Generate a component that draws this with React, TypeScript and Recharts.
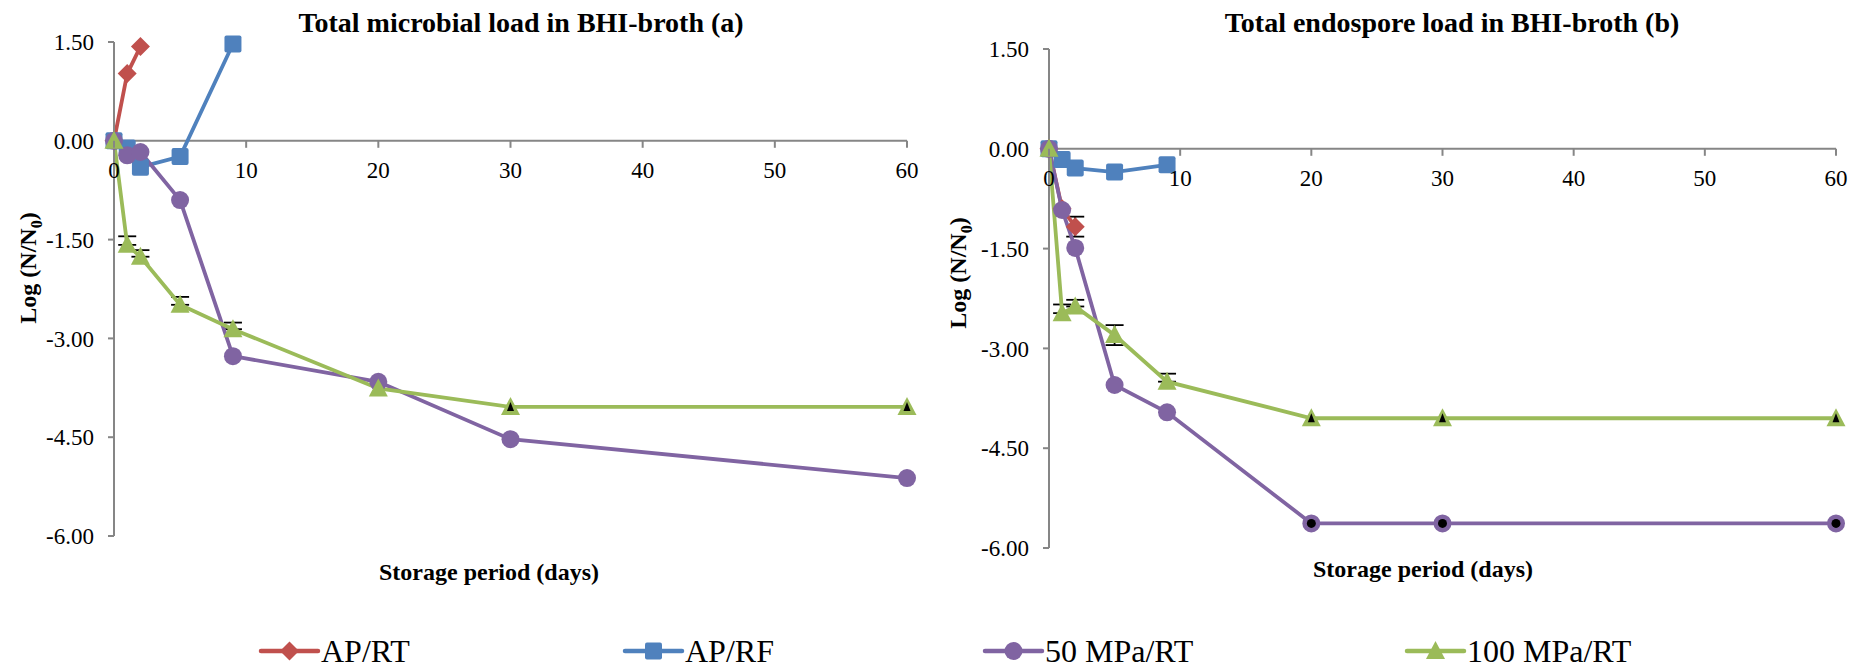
import React from 'react';
import { LineChart, Line, XAxis, YAxis, ErrorBar, ReferenceLine } from 'recharts';

const FONT = "'Liberation Serif', 'Times New Roman', Times, serif";
const RED = '#C0504D';
const BLUE = '#4F81BD';
const PURPLE = '#8064A2';
const GREEN = '#9BBB59';
const AXIS = '#868686';

const SERIES_NAMES = ['AP/RT', 'AP/RF', '50 MPa/RT', '100 MPa/RT'];
const TITLES = ['Total microbial load in BHI-broth (a)', 'Total endospore load in BHI-broth (b)'];
const X_LABEL = 'Storage period (days)';
const X_TICKS = [0, 10, 20, 30, 40, 50, 60];
const Y_TICKS = [-6, -4.5, -3, -1.5, 0, 1.5];
const X_DOMAIN = [0, 60];
const Y_MIN = -6;
const Y_MAX = 1.5;

// ---- Panel (a): total microbial load ----
const A_DAYS_AP_RT = [0, 1, 2];
const A_AP_RT = [0, 1.02, 1.43];
const A_DAYS_AP_RF = [0, 1, 2, 5, 9];
const A_AP_RF = [0, -0.11, -0.4, -0.24, 1.47];
const A_DAYS_HP = [0, 1, 2, 5, 9, 20, 30, 60];
const A_50 = [0, -0.22, -0.17, -0.9, -3.27, -3.66, -4.53, -5.12];
const A_100 = [0, -1.58, -1.76, -2.49, -2.86, -3.76, -4.04, -4.04];
const A_100_ERR_LO = [0, 0, 0, 0, 0, 0, 0, 0];
const A_100_ERR_HI = [0, 0.13, 0.1, 0.12, 0.1, 0, 0, 0];
const A_100_LIMIT = [0, 0, 0, 0, 0, 0, 1, 1];

// ---- Panel (b): total endospore load ----
const B_DAYS_AP_RT = [0, 1, 2];
const B_AP_RT = [0, -0.9, -1.17];
const B_AP_RT_ERR_LO = [0, 0, 0.15];
const B_AP_RT_ERR_HI = [0, 0, 0.15];
const B_DAYS_AP_RF = [0, 1, 2, 5, 9];
const B_AP_RF = [0, -0.16, -0.29, -0.35, -0.24];
const B_DAYS_HP = [0, 1, 2, 5, 9, 20, 30, 60];
const B_50 = [0, -0.92, -1.49, -3.55, -3.96, -5.63, -5.63, -5.63];
const B_50_LIMIT = [0, 0, 0, 0, 0, 1, 1, 1];
const B_100 = [0, -2.47, -2.37, -2.8, -3.5, -4.05, -4.05, -4.05];
const B_100_ERR_LO = [0, 0, 0, 0.15, 0, 0, 0, 0];
const B_100_ERR_HI = [0, 0.13, 0.1, 0.15, 0.12, 0, 0, 0];
const B_100_LIMIT = [0, 0, 0, 0, 0, 1, 1, 1];

type Row = { day: number; v: number; err: [number, number] | null; lim: number };
const rows = (days: number[], vals: number[], lo?: number[], hi?: number[], lim?: number[]): Row[] =>
  days.map((d, i) => {
    const l = lo ? lo[i] : 0;
    const h = hi ? hi[i] : 0;
    return {
      day: d,
      v: vals[i],
      err: l || h ? [l, h] : null,
      lim: lim ? lim[i] : 0,
    };
  });

// ---- marker shapes ----
const Diamond = ({ cx, cy, color }: any) => {
  const r = 9.5;
  return <polygon points={`${cx},${cy - r} ${cx + r},${cy} ${cx},${cy + r} ${cx - r},${cy}`} fill={color} />;
};
const Square = ({ cx, cy, color }: any) => {
  const s = 17;
  return <rect x={cx - s / 2} y={cy - s / 2} width={s} height={s} rx={2} fill={color} />;
};
const Circle = ({ cx, cy, color, lim }: any) => (
  <g>
    <circle cx={cx} cy={cy} r={9} fill={color} />
    {lim ? <circle cx={cx} cy={cy} r={4.5} fill="#000" /> : null}
  </g>
);
const Triangle = ({ cx, cy, color, lim }: any) => (
  <g>
    <polygon points={`${cx},${cy - 10} ${cx + 9.5},${cy + 8} ${cx - 9.5},${cy + 8}`} fill={color} />
    {lim ? <polygon points={`${cx},${cy - 5} ${cx + 3.5},${cy + 4} ${cx - 3.5},${cy + 4}`} fill="#000" /> : null}
  </g>
);

const dotFn = (Shape: any, color: string) => (p: any) => {
  if (p.cx == null || p.cy == null) return <g key={p.index} />;
  return <Shape key={p.index} cx={p.cx} cy={p.cy} color={color} lim={p.payload?.lim} />;
};

const tickStyle = { fontFamily: FONT, fontSize: 23, fill: '#000' };

const makeXTick = (zeroShift: number) => (props: any) => {
  const { x, y, payload } = props;
  const y0 = y - zeroShift;
  return (
    <g>
      <line x1={x} x2={x} y1={y0} y2={y0 + 7} stroke={AXIS} strokeWidth={2} />
      <text x={x} y={y0 + 30} textAnchor="middle" dominantBaseline="central" style={tickStyle}>
        {payload.value}
      </text>
    </g>
  );
};

type PanelProps = {
  left: number;
  top: number;
  margin: { top: number; right: number; bottom: number; left: number };
  rt: Row[];
  rf: Row[];
  p50: Row[];
  p100: Row[];
};

const W = 930;
const H = 600;
const YAXIS_W = 114;
const XAXIS_H = 1;

const Panel = ({ left, top, margin, rt, rf, p50, p100 }: PanelProps) => {
  const plotH = H - margin.top - margin.bottom - XAXIS_H;
  const zeroShift = (plotH * (0 - Y_MIN)) / (Y_MAX - Y_MIN);
  const lineProps = { type: 'linear' as const, dataKey: 'v', strokeWidth: 3.8, isAnimationActive: false, activeDot: false as any };
  const errProps = { type: 'linear' as const, dataKey: 'v', stroke: 'none', dot: false, isAnimationActive: false, activeDot: false as any };
  return (
    <div style={{ position: 'absolute', left, top, width: W, height: H }}>
      <LineChart width={W} height={H} margin={margin}>
        <XAxis
          type="number"
          dataKey="day"
          domain={X_DOMAIN}
          ticks={X_TICKS}
          interval={0}
          height={XAXIS_H}
          axisLine={false}
          tickLine={false}
          tickSize={0}
          tickMargin={0}
          tick={makeXTick(zeroShift)}
        />
        <YAxis
          type="number"
          domain={[Y_MIN, Y_MAX]}
          ticks={Y_TICKS}
          interval={0}
          width={YAXIS_W}
          tickFormatter={(v: number) => v.toFixed(2)}
          axisLine={{ stroke: AXIS, strokeWidth: 2 }}
          tickLine={{ stroke: AXIS, strokeWidth: 2 }}
          tickSize={6}
          tickMargin={14}
          tick={tickStyle}
        />
        <ReferenceLine y={0} stroke={AXIS} strokeWidth={2} />
        {/* error bars drawn first so the markers sit on top of them */}
        <Line {...errProps} data={rt}>
          <ErrorBar dataKey="err" width={9} stroke="#000" strokeWidth={1.8} direction="y" />
        </Line>
        <Line {...errProps} data={p100}>
          <ErrorBar dataKey="err" width={9} stroke="#000" strokeWidth={1.8} direction="y" />
        </Line>
        <Line {...lineProps} data={rt} stroke={RED} dot={dotFn(Diamond, RED)} />
        <Line {...lineProps} data={rf} stroke={BLUE} dot={dotFn(Square, BLUE)} />
        <Line {...lineProps} data={p50} stroke={PURPLE} dot={dotFn(Circle, PURPLE)} />
        <Line {...lineProps} data={p100} stroke={GREEN} dot={dotFn(Triangle, GREEN)} />
      </LineChart>
    </div>
  );
};

const centered = (x: number, y: number, style: React.CSSProperties, text: string) => (
  <div
    style={{
      position: 'absolute',
      left: x,
      top: y,
      transform: 'translate(-50%, -50%)',
      whiteSpace: 'nowrap',
      fontFamily: FONT,
      lineHeight: 1,
      color: '#000',
      ...style,
    }}
  >
    {text}
  </div>
);

const YLabel = ({ x, y }: { x: number; y: number }) => (
  <svg style={{ position: 'absolute', left: 0, top: 0, overflow: 'visible' }} width={1} height={1}>
    <text
      transform={`translate(${x},${y}) rotate(-90)`}
      textAnchor="middle"
      dominantBaseline="central"
      style={{ fontFamily: FONT, fontSize: 24, fontWeight: 'bold', fill: '#000' }}
    >
      Log (N/N<tspan baselineShift="sub" fontSize={16}>0</tspan>)
    </text>
  </svg>
);

const LEGEND_COLORS = [RED, BLUE, PURPLE, GREEN];
const LEGEND_SHAPES = [Diamond, Square, Circle, Triangle];
const LEGEND_X = [261, 625, 985, 1407];

const Legend = () => (
  <svg style={{ position: 'absolute', left: 0, top: 626, overflow: 'visible' }} width={1863} height={42}>
    {SERIES_NAMES.map((name, i) => {
      const Shape = LEGEND_SHAPES[i];
      const x0 = LEGEND_X[i];
      const cy = 25;
      return (
        <g key={name}>
          <line x1={x0} x2={x0 + 57} y1={cy} y2={cy} stroke={LEGEND_COLORS[i]} strokeWidth={4.5} strokeLinecap="round" />
          <Shape cx={x0 + 28.5} cy={cy} color={LEGEND_COLORS[i]} />
          <text x={x0 + 60} y={cy} dominantBaseline="central" style={{ fontFamily: FONT, fontSize: 32, fill: '#000' }}>
            {name}
          </text>
        </g>
      );
    })}
  </svg>
);

export default function App() {
  const titleStyle: React.CSSProperties = { fontSize: 28, fontWeight: 'bold' };
  const xLabelStyle: React.CSSProperties = { fontSize: 24, fontWeight: 'bold' };
  return (
    <div style={{ position: 'absolute', left: 0, top: 0, width: 1863, height: 668, background: '#fff', overflow: 'hidden' }}>
      <Panel
        left={0}
        top={0}
        margin={{ top: 42, right: 23, bottom: 63, left: 0 }}
        rt={rows(A_DAYS_AP_RT, A_AP_RT)}
        rf={rows(A_DAYS_AP_RF, A_AP_RF)}
        p50={rows(A_DAYS_HP, A_50)}
        p100={rows(A_DAYS_HP, A_100, A_100_ERR_LO, A_100_ERR_HI, A_100_LIMIT)}
      />
      <Panel
        left={935}
        top={0}
        margin={{ top: 49, right: 29, bottom: 51, left: 0 }}
        rt={rows(B_DAYS_AP_RT, B_AP_RT, B_AP_RT_ERR_LO, B_AP_RT_ERR_HI)}
        rf={rows(B_DAYS_AP_RF, B_AP_RF)}
        p50={rows(B_DAYS_HP, B_50, undefined, undefined, B_50_LIMIT)}
        p100={rows(B_DAYS_HP, B_100, B_100_ERR_LO, B_100_ERR_HI, B_100_LIMIT)}
      />
      {centered(521, 23, titleStyle, TITLES[0])}
      {centered(1452, 23, titleStyle, TITLES[1])}
      {centered(489, 572, xLabelStyle, X_LABEL)}
      {centered(1423, 569, xLabelStyle, X_LABEL)}
      <YLabel x={28} y={268} />
      <YLabel x={958} y={273} />
      <Legend />
    </div>
  );
}
